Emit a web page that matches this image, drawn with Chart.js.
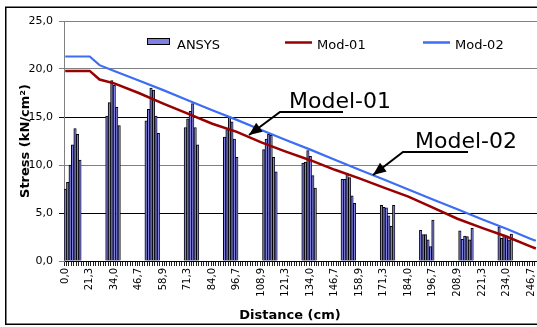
<!DOCTYPE html>
<html>
<head>
<meta charset="utf-8">
<script src="https://cdn.jsdelivr.net/npm/chart.js@4.4.1/dist/chart.umd.min.js"></script>
<style>
  html, body { margin: 0; padding: 0; background: #fff; overflow: hidden; }
  #wrap { position: relative; width: 567px; height: 327px; }
</style>
</head>
<body>
<div id="wrap"><canvas id="chart"></canvas></div>
<script>
// one category per data row, every 10th row carries a distance label
const rowCount = 200;
const distLabels = ['0,0', '21,3', '34,0', '46,7', '58,9', '71,3', '84,0', '96,7', '108,9', '121,3',
  '134,0', '146,7', '158,9', '171,3', '184,0', '196,7', '208,9', '221,3', '234,0', '246,7'];

// ANSYS bars: first row of each group, then the stresses of that group
const ansysStart = [0, 17, 33, 49, 65, 81, 97, 113, 129, 145, 161, 177];
const ansysGroups = [
  [7.5, 8.2, 10.0, 12.1, 13.8, 13.2, 10.5],
  [15.1, 16.5, 18.8, 18.3, 16.0, 14.1],
  [14.6, 15.8, 18.0, 17.8, 15.1, 13.3],
  [13.9, 14.8, 15.6, 16.4, 13.9, 12.1],
  [12.9, 13.7, 15.0, 14.5, 12.7, 10.8],
  [11.6, 12.7, 13.2, 13.1, 10.8, 9.3],
  [10.2, 10.3, 11.5, 10.9, 8.9, 7.6],
  [8.5, 8.5, 9.1, 8.7, 6.8, 6.0],
  [5.8, 5.6, 5.55, 4.7, 3.6, 5.8],
  [3.2, 2.75, 2.75, 2.2, 1.5, 4.25],
  [3.15, 2.25, 2.6, 2.55, 2.2, 3.4],
  [3.55, 2.35, 2.7, 2.6, 2.2, 2.8]
];

const modRows = [0, 10, 14, 20, 30, 40, 50, 60, 70, 80, 90, 100, 110, 120, 130, 140, 150, 160, 170, 180, 190, 192];
const mod01 = [19.8, 19.8, 18.9, 18.5, 17.5, 16.4, 15.35, 14.3, 13.45, 12.35, 11.4, 10.5, 9.5, 8.6, 7.65, 6.7, 5.55, 4.4, 3.45, 2.55, 1.5, 1.3];
const mod02 = [21.3, 21.3, 20.4, 19.8, 18.8, 17.8, 16.75, 15.7, 14.7, 13.65, 12.6, 11.6, 10.55, 9.5, 8.5, 7.45, 6.4, 5.4, 4.35, 3.35, 2.3, 2.1];

const labels = Array.from({ length: rowCount }, (_, i) => (i % 10 === 0 ? distLabels[i / 10] : ''));

const ansys = new Array(rowCount).fill(null);
ansysGroups.forEach((g, k) => g.forEach((v, j) => { ansys[ansysStart[k] + j] = v; }));

function spread(rows, vals) {
  const a = new Array(rowCount).fill(null);
  rows.forEach((r, i) => { a[r] = vals[i]; });
  return a;
}

const barFill = '#8080e0';
const redLine = '#990000';
const blueLine = '#3c6ef5';

function arrow(c, pts) {
  c.beginPath();
  c.moveTo(pts[0][0], pts[0][1]);
  for (let i = 1; i < pts.length; i++) c.lineTo(pts[i][0], pts[i][1]);
  c.stroke();
  const [x1, y1] = pts[pts.length - 2];
  const [x2, y2] = pts[pts.length - 1];
  const len = Math.hypot(x2 - x1, y2 - y1);
  const ux = (x2 - x1) / len, uy = (y2 - y1) / len;
  const hl = 13, hw = 5.5;
  c.beginPath();
  c.moveTo(x2, y2);
  c.lineTo(x2 - ux * hl - uy * hw, y2 - uy * hl + ux * hw);
  c.lineTo(x2 - ux * hl + uy * hw, y2 - uy * hl - ux * hw);
  c.closePath();
  c.fill();
}

const decor = {
  id: 'decor',
  afterDraw(chart) {
    const c = chart.ctx;
    c.save();
    // chart frame (cut off on the right)
    c.strokeStyle = '#000';
    c.lineWidth = 1.5;
    c.strokeRect(5.75, 7.25, 700, 317);

    // legend inside the plot
    c.font = '13px "DejaVu Sans"';
    c.textBaseline = 'middle';
    c.textAlign = 'left';
    c.fillStyle = barFill;
    c.fillRect(147, 38, 23, 7);
    c.lineWidth = 1;
    c.strokeRect(147.5, 38.5, 22, 6);
    c.fillStyle = '#000';
    c.fillText('ANSYS', 177, 46);
    c.lineWidth = 2.5;
    c.strokeStyle = redLine;
    c.beginPath(); c.moveTo(285, 42.5); c.lineTo(312, 42.5); c.stroke();
    c.fillText('Mod-01', 317, 46);
    c.strokeStyle = blueLine;
    c.beginPath(); c.moveTo(423, 42.5); c.lineTo(450, 42.5); c.stroke();
    c.fillText('Mod-02', 455, 46);

    // call-outs
    c.font = '22px "DejaVu Sans"';
    c.textBaseline = 'alphabetic';
    c.fillText('Model-01', 289, 108);
    c.fillText('Model-02', 415, 147.5);
    c.strokeStyle = '#000';
    c.lineWidth = 2;
    arrow(c, [[343, 112], [280, 112], [249, 135]]);
    arrow(c, [[468, 152], [403, 152], [373, 175]]);

    // x axis title
    c.font = 'bold 13px "DejaVu Sans"';
    c.textAlign = 'center';
    c.textBaseline = 'middle';
    c.fillText('Distance (cm)', 290, 316);
    c.restore();
  }
};

new Chart(document.getElementById('chart'), {
  type: 'bar',
  data: {
    labels: labels,
    datasets: [
      {
        type: 'line',
        label: 'Mod-01',
        data: spread(modRows, mod01),
        borderColor: redLine,
        borderWidth: 2.5,
        pointRadius: 0,
        tension: 0,
        spanGaps: true,
        order: 1
      },
      {
        type: 'line',
        label: 'Mod-02',
        data: spread(modRows, mod02),
        borderColor: blueLine,
        borderWidth: 2.2,
        pointRadius: 0,
        tension: 0,
        spanGaps: true,
        order: 0
      },
      {
        label: 'ANSYS',
        data: ansys,
        backgroundColor: barFill,
        borderColor: '#000',
        borderWidth: { top: 1, left: 1, right: 0.8, bottom: 0 },
        barPercentage: 1,
        categoryPercentage: 1,
        order: 2
      }
    ]
  },
  options: {
    responsive: true,
    maintainAspectRatio: false,
    animation: false,
    layout: { padding: { left: 6, top: 21, right: 3, bottom: 0 } },
    plugins: {
      legend: { display: false },
      tooltip: { enabled: false }
    },
    scales: {
      x: {
        ticks: {
          autoSkip: false,
          minRotation: 90,
          maxRotation: 90,
          padding: 2,
          color: '#000',
          font: { family: 'DejaVu Sans', size: 10 }
        },
        grid: { drawOnChartArea: false, tickLength: 5, color: '#202020' },
        border: { color: '#000', width: 1 },
        afterFit(scale) { scale.height = 66; }
      },
      y: {
        min: 0,
        max: 25,
        ticks: {
          stepSize: 5,
          padding: 6,
          color: '#000',
          font: { family: 'DejaVu Sans', size: 11 },
          callback: (v) => v.toFixed(1).replace('.', ',')
        },
        grid: {
          tickLength: 5,
          color: (ctx) => ([5, 15].includes(ctx.tick && ctx.tick.value) ? '#000' : '#808080')
        },
        border: { color: '#808080' },
        title: {
          display: true,
          text: 'Stress (kN/cm²)',
          color: '#000',
          font: { family: 'DejaVu Sans', size: 13, weight: 'bold' },
          padding: { top: 12, bottom: 0 }
        },
        afterFit(scale) { scale.width = 58; }
      }
    }
  },
  plugins: [decor]
});
</script>
</body>
</html>
